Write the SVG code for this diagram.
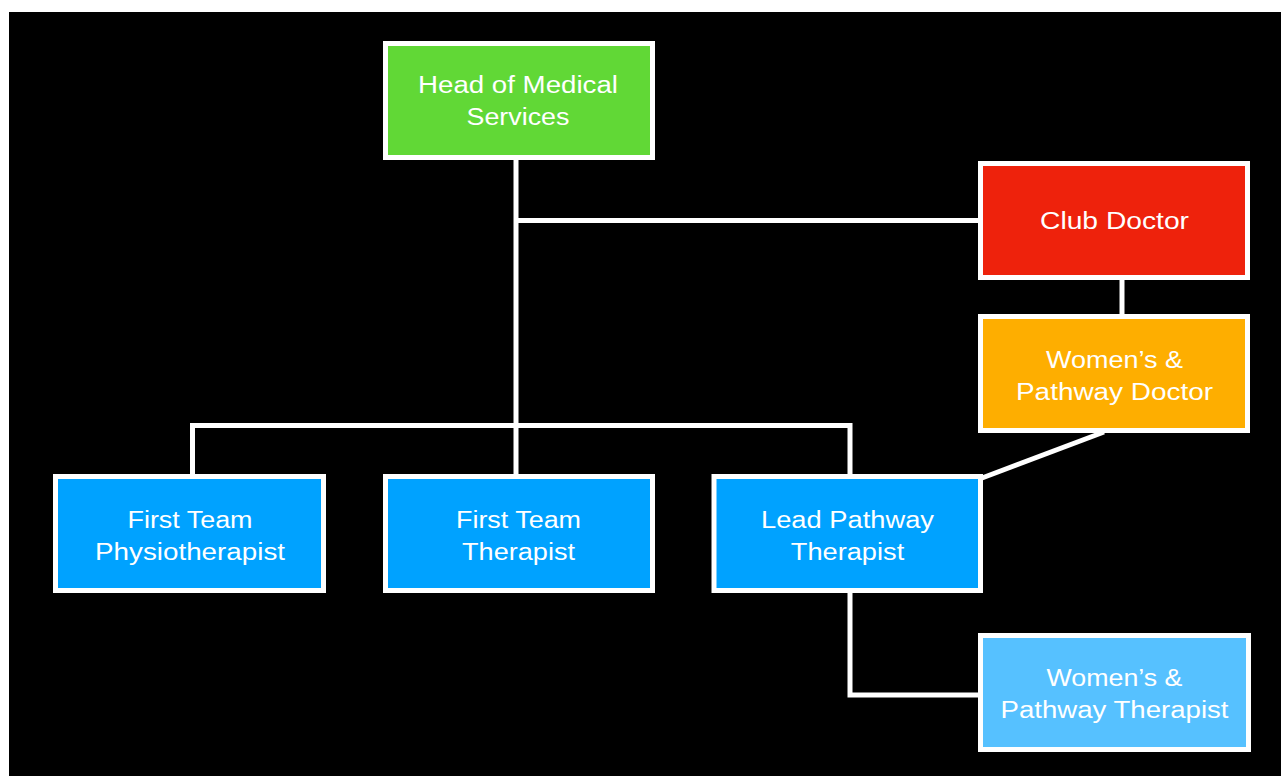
<svg xmlns="http://www.w3.org/2000/svg" width="1281" height="776" viewBox="0 0 1281 776">
<style>
.box{stroke:#fff;stroke-width:5}
.lbl{font-family:"Liberation Sans",Arial,Helvetica,sans-serif;font-size:23.5px;fill:#fff;text-anchor:middle}
.con{fill:none;stroke:#fff;stroke-width:5;stroke-linejoin:miter;stroke-linecap:butt}
</style>
<rect x="0" y="0" width="1281" height="776" fill="#fff"/>
<rect x="9" y="12" width="1272" height="764" fill="#000"/>
<g id="connectors">
<path class="con" d="M516 158 V476"/>
<path class="con" d="M516 220.5 H980"/>
<path class="con" d="M192.5 476 V425.5 H850 V476"/>
<path class="con" d="M1122 278 V316"/>
<path class="con" d="M1104 432 L982 478"/>
<path class="con" d="M850 591 V695 H980"/>
</g>
<g id="head">
<rect class="box" x="385.5" y="43.5" width="267" height="114" fill="#61D836"/>
<text class="lbl" x="518" y="93" textLength="200" lengthAdjust="spacingAndGlyphs">Head of Medical</text>
<text class="lbl" x="518" y="125" textLength="103" lengthAdjust="spacingAndGlyphs">Services</text>
</g>
<g id="club-doctor">
<rect class="box" x="980.5" y="163.5" width="267" height="114" fill="#EE220C"/>
<text class="lbl" x="1114.5" y="229" textLength="149" lengthAdjust="spacingAndGlyphs">Club Doctor</text>
</g>
<g id="womens-pathway-doctor">
<rect class="box" x="980.5" y="316.5" width="267" height="114" fill="#FEAE00"/>
<text class="lbl" x="1114.5" y="368" textLength="137" lengthAdjust="spacingAndGlyphs">Women’s &amp;</text>
<text class="lbl" x="1114.5" y="400" textLength="197" lengthAdjust="spacingAndGlyphs">Pathway Doctor</text>
</g>
<g id="first-team-physio">
<rect class="box" x="55.5" y="476.5" width="268" height="114" fill="#00A2FF"/>
<text class="lbl" x="190" y="527.5" textLength="125" lengthAdjust="spacingAndGlyphs">First Team</text>
<text class="lbl" x="190" y="559.5" textLength="190" lengthAdjust="spacingAndGlyphs">Physiotherapist</text>
</g>
<g id="first-team-therapist">
<rect class="box" x="385.5" y="476.5" width="267" height="114" fill="#00A2FF"/>
<text class="lbl" x="518.5" y="527.5" textLength="125" lengthAdjust="spacingAndGlyphs">First Team</text>
<text class="lbl" x="518.5" y="559.5" textLength="113" lengthAdjust="spacingAndGlyphs">Therapist</text>
</g>
<g id="lead-pathway-therapist">
<rect class="box" x="714" y="476.5" width="266.5" height="114" fill="#00A2FF"/>
<text class="lbl" x="847.5" y="527.5" textLength="173" lengthAdjust="spacingAndGlyphs">Lead Pathway</text>
<text class="lbl" x="847.5" y="559.5" textLength="113.5" lengthAdjust="spacingAndGlyphs">Therapist</text>
</g>
<g id="womens-pathway-therapist">
<rect class="box" x="980.5" y="635.5" width="268" height="114" fill="#56C1FF"/>
<text class="lbl" x="1114.5" y="686" textLength="136" lengthAdjust="spacingAndGlyphs">Women’s &amp;</text>
<text class="lbl" x="1114.5" y="718" textLength="228" lengthAdjust="spacingAndGlyphs">Pathway Therapist</text>
</g>
</svg>
